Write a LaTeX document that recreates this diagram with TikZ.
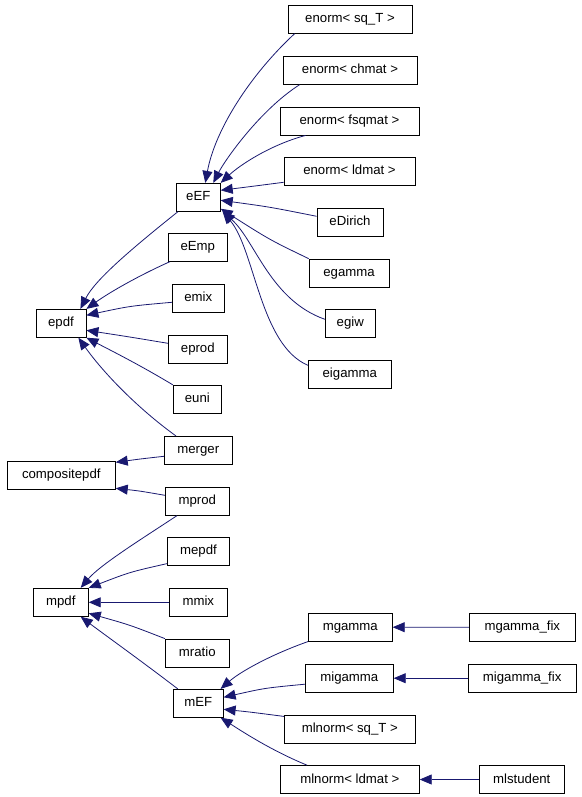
\documentclass[tikz,border=0pt]{standalone}
\usepackage{fontspec}
\setmainfont{Liberation Sans}
\usetikzlibrary{arrows.meta}
\definecolor{navy}{RGB}{25,25,112}
\begin{document}
\begin{tikzpicture}[x=1pt, y=-1pt,
    cls/.style={draw, line width=.8pt, minimum height=28pt, inner sep=0pt,
        text height=9.5pt, text depth=2.5pt, font=\fontsize{13.2}{15}\selectfont},
    derive/.style={draw=navy, line width=.8pt, -{Triangle[length=12pt,width=10pt]}}]
    \useasboundingbox (0,0) rectangle (581,797);

    % e-branch
    \node[cls, minimum width=124pt] (enSqT) at (350,19.3) {enorm< sq\_T >};
    \node[cls, minimum width=134pt] (enCh) at (350,70.3) {enorm< chmat >};
    \node[cls, minimum width=139pt] (enFsq) at (349.5,121) {enorm< fsqmat >};
    \node[cls, minimum width=131pt] (enLd) at (349.5,171.3) {enorm< ldmat >};
    \node[cls, minimum width=44pt] (eEF) at (198.3,197.3) {eEF};
    \node[cls, minimum width=66pt] (eDirich) at (350,222.3) {eDirich};
    \node[cls, minimum width=59pt] (eEmp) at (197.8,247.3) {eEmp};
    \node[cls, minimum width=80pt] (egamma) at (349,273) {egamma};
    \node[cls, minimum width=52pt] (emix) at (198.3,298.3) {emix};
    \node[cls, minimum width=50pt] (epdf) at (61,323.3) {epdf};
    \node[cls, minimum width=50pt] (egiw) at (350.3,323.3) {egiw};
    \node[cls, minimum width=59pt] (eprod) at (197.8,349.3) {eprod};
    \node[cls, minimum width=83pt] (eigamma) at (349.8,374.3) {eigamma};
    \node[cls, minimum width=48pt] (euni) at (197.3,399.3) {euni};
    \node[cls, minimum width=68pt] (merger) at (198.3,450.3) {merger};
    \node[cls, minimum width=108pt] (compositepdf) at (61.3,475.3) {compositepdf};
    \node[cls, minimum width=64pt] (mprod) at (197.3,501.3) {mprod};

    % m-branch
    \node[cls, minimum width=62pt] (mepdf) at (198.5,551.2) {mepdf};
    \node[cls, minimum width=55pt] (mpdf) at (60.8,602.3) {mpdf};
    \node[cls, minimum width=58pt] (mmix) at (198.3,602.3) {mmix};
    \node[cls, minimum width=84pt] (mgamma) at (350.3,627.2) {mgamma};
    \node[cls, minimum width=106pt] (mgammaFix) at (522.3,627.3) {mgamma\_fix};
    \node[cls, minimum width=64pt] (mratio) at (197.3,653) {mratio};
    \node[cls, minimum width=88pt] (migamma) at (349.3,678.2) {migamma};
    \node[cls, minimum width=108pt] (migammaFix) at (522.2,678.2) {migamma\_fix};
    \node[cls, minimum width=50pt] (mEF) at (198.2,703.3) {mEF};
    \node[cls, minimum width=131pt] (mlnSqT) at (349.8,729.4) {mlnorm< sq\_T >};
    \node[cls, minimum width=139pt] (mlnLd) at (349.8,779.5) {mlnorm< ldmat >};
    \node[cls, minimum width=85pt] (mlstudent) at (521.8,779.5) {mlstudent};

    % into eEF
    \draw[derive] ([xshift=7pt]enSqT.south west) .. controls (250,75) and (215,130) .. ([xshift=7pt]eEF.north);
    \draw[derive] ([xshift=17pt]enCh.south west) .. controls (260,110) and (225,160) .. ([xshift=15pt]eEF.north);
    \draw[derive] ([xshift=26pt]enFsq.south west) .. controls (270,145) and (240,165) .. (eEF.north east);
    \draw[derive] ([yshift=-11pt]enLd.west) .. controls (255,186) .. ([yshift=7pt]eEF.east);
    \draw[derive] ([yshift=6pt]eDirich.west) .. controls (270,207) .. ([yshift=-3pt]eEF.east);
    \draw[derive] (egamma.north west) .. controls (270,240) .. ([yshift=3pt]eEF.south east);
    \draw[derive] ([yshift=4pt]egiw.west) .. controls (270,300) and (255,240) .. ([xshift=2pt]eEF.south east);
    \draw[derive] ([yshift=9pt]eigamma.west) .. controls (260,345) and (255,250) .. ([xshift=2pt]eEF.south east);

    % into epdf and compositepdf
    \draw[derive] ([xshift=2pt]eEF.south west) .. controls (130,250) and (95,280) .. ([xshift=-6pt]epdf.north east);
    \draw[derive] ([xshift=2pt]eEmp.south west) .. controls (140,275) and (110,292) .. (epdf.north east);
    \draw[derive] ([yshift=-4pt]emix.west) .. controls (130,306) .. ([yshift=8pt]epdf.east);
    \draw[derive] ([yshift=6pt]eprod.west) .. controls (130,337) .. ([yshift=-7pt]epdf.east);
    \draw[derive] (euni.north west) .. controls (140,365) and (110,350) .. (epdf.south east);
    \draw[derive] ([xshift=12pt]merger.north west) .. controls (140,410) and (105,375) .. ([xshift=-8pt]epdf.south east);
    \draw[derive] ([yshift=-6pt]merger.west) .. controls (140,459) .. ([yshift=13pt]compositepdf.east);
    \draw[derive] ([yshift=6pt]mprod.west) .. controls (140,491) .. ([yshift=-13pt]compositepdf.east);

    % into mpdf
    \draw[derive] ([xshift=12pt]mprod.south west) .. controls (140,540) and (100,565) .. ([xshift=-8pt]mpdf.north east);
    \draw[derive] ([yshift=2pt]mepdf.south west) .. controls (130,572) .. (mpdf.north east);
    \draw[derive] (mmix.west) -- (mpdf.east);
    \draw[derive] (mratio.north west) .. controls (130,625) .. ([yshift=-11pt]mpdf.east);
    \draw[derive] ([xshift=5pt]mEF.north west) .. controls (140,660) and (105,635) .. ([xshift=-8pt]mpdf.south east);

    % into mEF
    \draw[derive] (mgamma.south west) .. controls (270,655) and (240,672) .. ([xshift=-3pt]mEF.north east);
    \draw[derive] ([yshift=-6pt]migamma.west) .. controls (265,688) .. ([yshift=6pt]mEF.east);
    \draw[derive] ([yshift=13pt]mlnSqT.west) .. controls (250,712) .. ([yshift=-6pt]mEF.east);
    \draw[derive] ([xshift=27pt]mlnLd.north west) .. controls (270,750) and (240,730) .. ([xshift=-3pt]mEF.south east);

    % leaves
    \draw[derive] (mgammaFix.west) -- (mgamma.east);
    \draw[derive] (migammaFix.west) -- (migamma.east);
    \draw[derive] (mlstudent.west) -- (mlnLd.east);
\end{tikzpicture}
\end{document}
